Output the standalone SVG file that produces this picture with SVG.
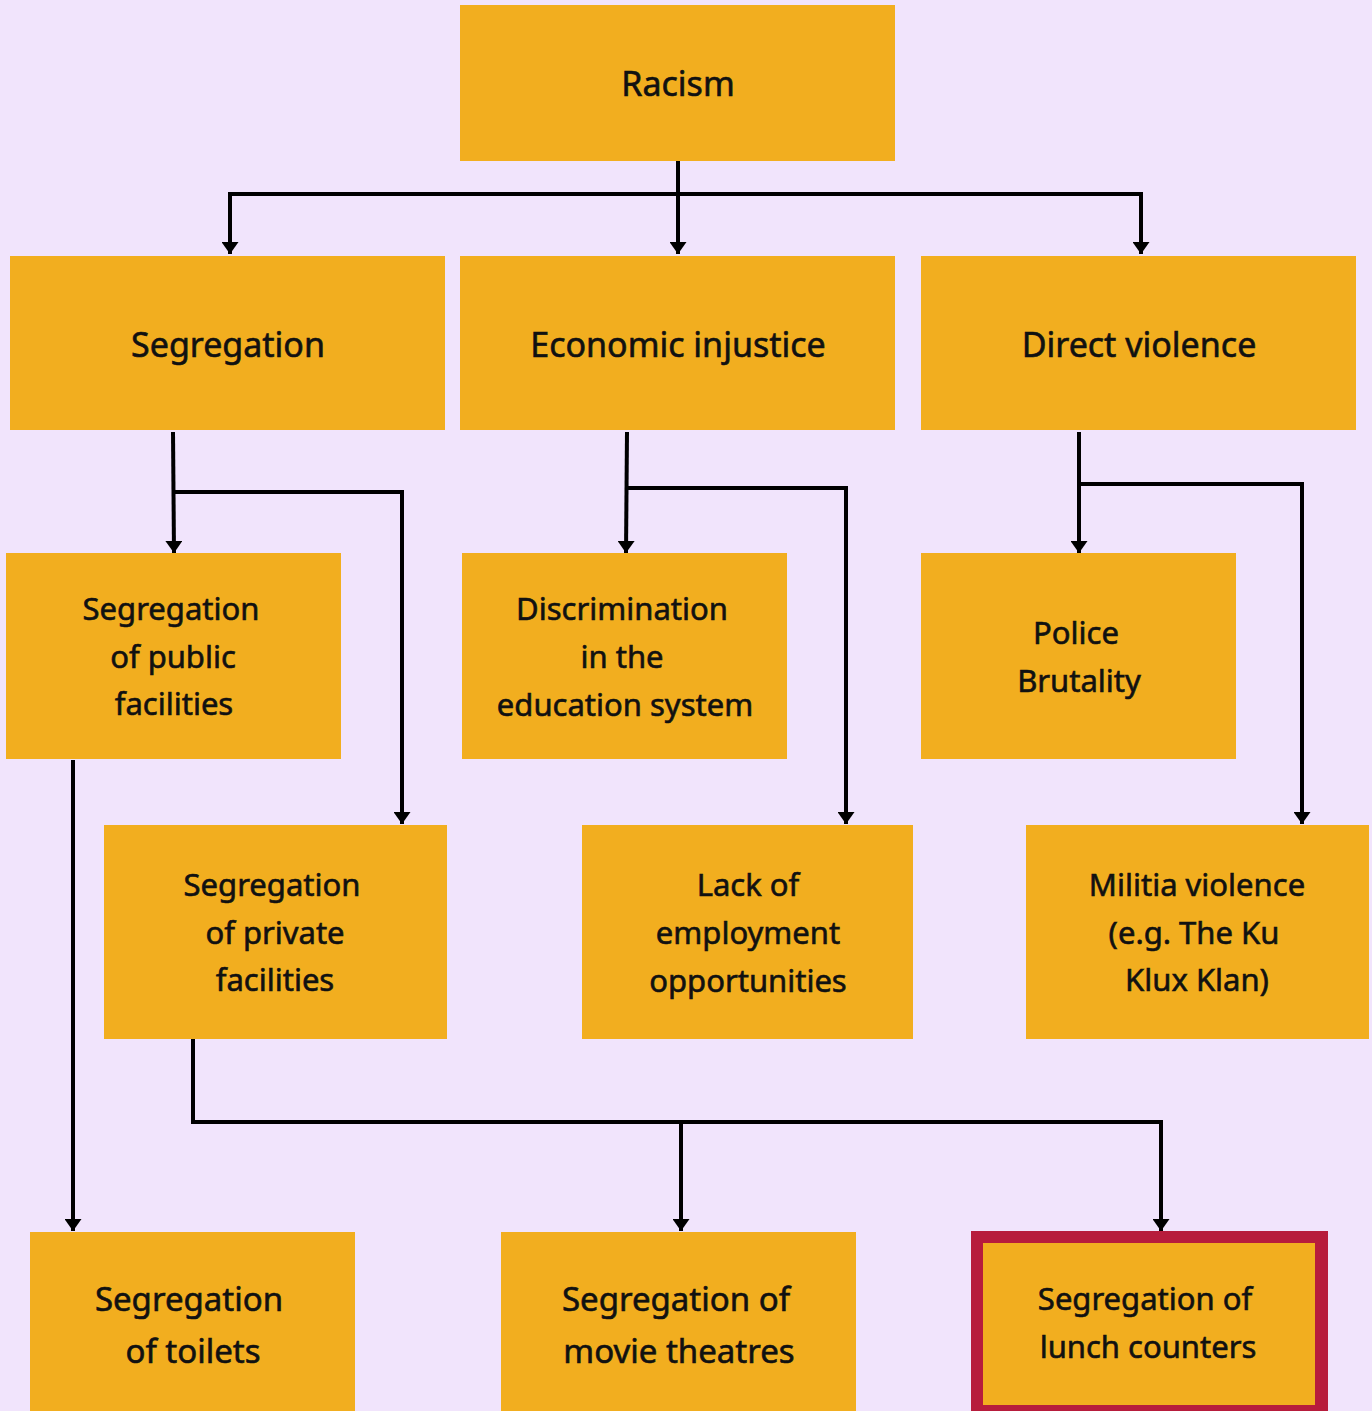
<svg xmlns="http://www.w3.org/2000/svg" width="1372" height="1411" viewBox="0 0 1372 1411">
<defs>
<marker id="arr" markerUnits="userSpaceOnUse" markerWidth="13" markerHeight="17" viewBox="0 0 13 17" refX="12" refY="8.5" orient="auto">
<path d="M0,0 L12,8.5 L0,17 z" fill="#000"/>
</marker>
<style>
.box{fill:#F2AE1F;}
.t{font-family:"Noto Sans","Liberation Sans",sans-serif;fill:#111;stroke:#111;stroke-width:0.6px;text-anchor:middle;dominant-baseline:central;}
.l1{font-size:34px;}
.l2{font-size:31px;}
.l3{font-size:33px;}
.c{fill:none;stroke:#000;stroke-width:4;}
.a{marker-end:url(#arr);}
</style>
</defs>
<rect width="1372" height="1411" fill="#F1E4FC"/>
<g id="connectors">
<path class="c" d="M230,194 H1141"/>
<path class="c a" d="M678,161 V254"/>
<path class="c a" d="M230,192 V254"/>
<path class="c a" d="M1141,192 V254"/>
<path class="c a" d="M173,432 L174,553"/>
<path class="c a" d="M175,492 H402 V824"/>
<path class="c a" d="M627,432 L626,553"/>
<path class="c a" d="M627,488 H846 V824"/>
<path class="c a" d="M1079,432 V553"/>
<path class="c a" d="M1079,484 H1302 V824"/>
<path class="c a" d="M73,760 V1231"/>
<path class="c a" d="M193,1039 V1122 H1161 V1231"/>
<path class="c a" d="M681,1122 V1231"/>
</g>
<g id="racism"><rect class="box" x="460" y="5" width="435" height="156"/><text class="t l1" x="678" y="83">Racism</text></g>
<g id="segregation"><rect class="box" x="10" y="256" width="435" height="174"/><text class="t l1" x="228" y="344">Segregation</text></g>
<g id="economic"><rect class="box" x="460" y="256" width="435" height="174"/><text class="t l1" x="678" y="344">Economic injustice</text></g>
<g id="violence"><rect class="box" x="921" y="256" width="435" height="174"/><text class="t l1" x="1139" y="344">Direct violence</text></g>
<g id="public"><rect class="box" x="6" y="553" width="335" height="206"/><text class="t l2"><tspan x="171" y="608">Segregation</tspan><tspan x="173" y="656">of public</tspan><tspan x="174" y="703">facilities</tspan></text></g>
<g id="education"><rect class="box" x="462" y="553" width="325" height="206"/><text class="t l2"><tspan x="622" y="608">Discrimination</tspan><tspan x="622" y="656">in the</tspan><tspan x="625" y="704">education system</tspan></text></g>
<g id="police"><rect class="box" x="921" y="553" width="315" height="206"/><text class="t l2"><tspan x="1076" y="632">Police</tspan><tspan x="1079" y="680">Brutality</tspan></text></g>
<g id="private"><rect class="box" x="104" y="825" width="343" height="214"/><text class="t l2"><tspan x="272" y="884">Segregation</tspan><tspan x="275" y="932">of private</tspan><tspan x="275" y="979">facilities</tspan></text></g>
<g id="employment"><rect class="box" x="582" y="825" width="331" height="214"/><text class="t l2"><tspan x="748" y="884">Lack of</tspan><tspan x="748" y="932">employment</tspan><tspan x="748" y="980">opportunities</tspan></text></g>
<g id="militia"><rect class="box" x="1026" y="825" width="343" height="214"/><text class="t l2"><tspan x="1197" y="884">Militia violence</tspan><tspan x="1194" y="932">(e.g. The Ku</tspan><tspan x="1197" y="979">Klux Klan)</tspan></text></g>
<g id="toilets"><rect class="box" x="30" y="1232" width="325" height="179"/><text class="t l3"><tspan x="189" y="1298">Segregation</tspan><tspan x="193" y="1350">of toilets</tspan></text></g>
<g id="movies"><rect class="box" x="501" y="1232" width="355" height="179"/><text class="t l3"><tspan x="676" y="1298">Segregation of</tspan><tspan x="679" y="1350">movie theatres</tspan></text></g>
<g id="lunch"><rect x="971" y="1231" width="357" height="190" fill="#B71C3C"/><rect class="box" x="983" y="1243" width="332" height="162"/><text class="t l2"><tspan x="1145" y="1298">Segregation of</tspan><tspan x="1148" y="1346">lunch counters</tspan></text></g>
</svg>
